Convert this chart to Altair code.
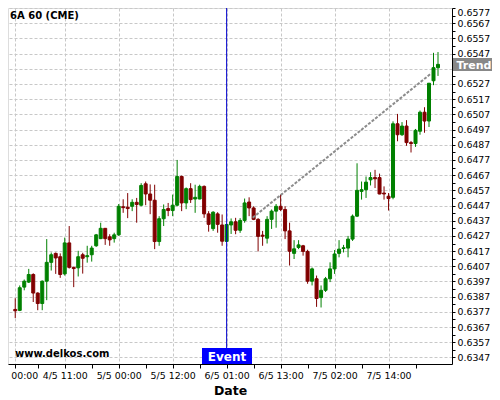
import altair as alt
import pandas as pd

# ---------------- data ----------------
opens = [0.63786, 0.63780, 0.63933, 0.63966, 0.64016, 0.63894, 0.63825, 0.63972, 0.64096, 0.64155,
         0.64133, 0.64020, 0.64224, 0.64063, 0.64060, 0.64146, 0.64133, 0.64146, 0.64205, 0.64252,
         0.64320, 0.64264, 0.64252, 0.64277, 0.64462, 0.64459, 0.64465, 0.64491, 0.64472, 0.64613,
         0.64546, 0.64505, 0.64233, 0.64383, 0.64450, 0.64437, 0.64472, 0.64661, 0.64487, 0.64581,
         0.64513, 0.64513, 0.64596, 0.64415, 0.64318, 0.64415, 0.64342, 0.64234, 0.64342, 0.64363,
         0.64307, 0.64372, 0.64493, 0.64454, 0.64379, 0.64275, 0.64255, 0.64379, 0.64433, 0.64465,
         0.64444, 0.64303, 0.64155, 0.64194, 0.64205, 0.64168, 0.63972, 0.63988, 0.63864, 0.63912,
         0.63988, 0.64053, 0.64155, 0.64187, 0.64190, 0.64249, 0.64400, 0.64563, 0.64574, 0.64639,
         0.64654, 0.64654, 0.64552, 0.64531, 0.64524, 0.65008, 0.64936, 0.64993, 0.64884, 0.64878,
         0.64959, 0.65084, 0.65026, 0.65291, 0.65377]
highs = [0.63860, 0.63944, 0.63983, 0.64053, 0.64024, 0.63899, 0.63977, 0.64249, 0.64161, 0.64161,
         0.64155, 0.64259, 0.64335, 0.64068, 0.64172, 0.64159, 0.64205, 0.64205, 0.64283, 0.64357,
         0.64322, 0.64281, 0.64291, 0.64480, 0.64511, 0.64552, 0.64511, 0.64520, 0.64617, 0.64628,
         0.64609, 0.64607, 0.64400, 0.64477, 0.64487, 0.64542, 0.64770, 0.64667, 0.64589, 0.64617,
         0.64607, 0.64607, 0.64602, 0.64433, 0.64433, 0.64426, 0.64411, 0.64346, 0.64385, 0.64389,
         0.64387, 0.64516, 0.64524, 0.64465, 0.64387, 0.64303, 0.64400, 0.64444, 0.64480, 0.64542,
         0.64465, 0.64357, 0.64242, 0.64242, 0.64211, 0.64179, 0.64062, 0.64009, 0.63944, 0.64000,
         0.64096, 0.64177, 0.64242, 0.64211, 0.64270, 0.64411, 0.64748, 0.64628, 0.64661, 0.64689,
         0.64705, 0.64680, 0.64596, 0.64552, 0.65024, 0.65073, 0.65019, 0.65032, 0.64895, 0.64974,
         0.65095, 0.65117, 0.65275, 0.65475, 0.65480]
lows = [0.63729, 0.63775, 0.63912, 0.63960, 0.63835, 0.63781, 0.63781, 0.63847, 0.64042, 0.64020,
        0.63994, 0.64009, 0.64055, 0.63933, 0.64003, 0.64022, 0.64094, 0.64101, 0.64198, 0.64249,
        0.64211, 0.64205, 0.64226, 0.64270, 0.64422, 0.64387, 0.64433, 0.64357, 0.64465, 0.64472,
        0.64413, 0.64183, 0.64205, 0.64335, 0.64400, 0.64400, 0.64465, 0.64433, 0.64446, 0.64487,
        0.64422, 0.64511, 0.64389, 0.64298, 0.64303, 0.64291, 0.64205, 0.64231, 0.64283, 0.64281,
        0.64290, 0.64357, 0.64400, 0.64374, 0.64168, 0.64205, 0.64220, 0.64316, 0.64324, 0.64433,
        0.64249, 0.64075, 0.64118, 0.64183, 0.64140, 0.63955, 0.63944, 0.63803, 0.63799, 0.63901,
        0.63966, 0.64020, 0.64129, 0.64161, 0.64129, 0.64237, 0.64394, 0.64509, 0.64520, 0.64602,
        0.64585, 0.64544, 0.64509, 0.64437, 0.64511, 0.64893, 0.64928, 0.64863, 0.64819, 0.64856,
        0.64936, 0.64949, 0.64987, 0.65262, 0.65323]
closes = [0.63777, 0.63929, 0.63972, 0.64016, 0.63894, 0.63825, 0.63972, 0.64096, 0.64146, 0.64125,
          0.64016, 0.64224, 0.64063, 0.64055, 0.64133, 0.64123, 0.64140, 0.64190, 0.64277, 0.64320,
          0.64252, 0.64244, 0.64277, 0.64465, 0.64456, 0.64450, 0.64491, 0.64477, 0.64602, 0.64546,
          0.64505, 0.64233, 0.64383, 0.64444, 0.64437, 0.64472, 0.64661, 0.64487, 0.64581, 0.64509,
          0.64524, 0.64596, 0.64415, 0.64346, 0.64426, 0.64346, 0.64235, 0.64345, 0.64363, 0.64307,
          0.64372, 0.64487, 0.64454, 0.64379, 0.64267, 0.64268, 0.64379, 0.64433, 0.64465, 0.64444,
          0.64303, 0.64169, 0.64185, 0.64211, 0.64168, 0.63972, 0.64053, 0.63858, 0.63912, 0.63988,
          0.64053, 0.64151, 0.64183, 0.64192, 0.64249, 0.64400, 0.64570, 0.64574, 0.64624, 0.64654,
          0.64646, 0.64546, 0.64546, 0.64516, 0.65008, 0.64936, 0.64993, 0.64884, 0.64878, 0.64965,
          0.65084, 0.65026, 0.65275, 0.65377, 0.65399]
bar_index = list(range(len(opens)))

x_tick_idx = [0, 5, 11, 17, 23, 29, 35, 41, 47, 53, 59, 65, 71, 77, 83, 89]
x_label_idx = [0, 11, 23, 35, 47, 59, 71, 83]
x_label_txt = ["4/5 00:00", "4/5 11:00", "5/5 00:00", "5/5 12:00",
               "6/5 01:00", "6/5 13:00", "7/5 02:00", "7/5 14:00"]
# y ticks every 0.0005, labels every 0.0010 (…7); 0.6537 sits under the "Trend" tag
y_tick_vals = [round(0.6347 + 0.0005 * k, 5) for k in range(47)]
y_hidden_label = 0.6537

trend_idx = [52.8, 92.5]
trend_price = [0.6439, 0.6534]
event_idx = [47]

chart_title = "6A 60 (CME)"
watermark = "www.delkos.com"
event_text = "Event"
trend_text = "Trend"

# ---------------- build ----------------
W, H = 444, 356
FONT = "DejaVu Sans"

df = pd.DataFrame({"idx": bar_index, "o": opens, "h": highs, "l": lows, "c": closes})
df["dir"] = ["up" if c >= o else "down" for o, c in zip(opens, closes)]
trend_df = pd.DataFrame({"idx": trend_idx, "price": trend_price})
event_df = pd.DataFrame({"idx": event_idx})

xs = alt.Scale(domain=[-0.5, 96.0], nice=False, zero=False)
ys = alt.Scale(domain=[0.63427, 0.6577], nice=False, zero=False)

lab_expr = "".join(f"datum.value == {i} ? '{t}' : " for i, t in zip(x_label_idx, x_label_txt)) + "''"
grid_test_x = "indexof([" + ",".join(str(i) for i in x_label_idx) + "], datum.value) >= 0"
major_test = "round(datum.value*10000) % 10 == 7"
hide_test = f"abs(datum.value - {y_hidden_label}) < 0.00002"

xax = alt.Axis(values=x_tick_idx, labelExpr=lab_expr, title="Date",
               titleFont=FONT, titleFontSize=12.5, titleFontWeight="bold", titleColor="black",
               titleBaseline="alphabetic", titleY=30,
               labelFont=FONT, labelFontSize=9.4, labelColor="black", labelPadding=3.5,
               labelOverlap=False, labelFlush=False, labelBound=False,
               tickSize=4, tickColor="black", domainColor="black", domainWidth=1,
               grid=True, gridColor="#c8c8c8", gridDash=[3, 2],
               gridOpacity={"condition": {"test": grid_test_x, "value": 1}, "value": 0})
yax = alt.Axis(orient="right", values=y_tick_vals, title=None,
               labelExpr=f"({major_test}) && !({hide_test}) ? format(datum.value, '.4f') : ''",
               labelFont=FONT, labelFontSize=9.4, labelColor="black", labelPadding=2,
               labelOverlap=False, labelFlush=False, labelBound=False,
               labelOffset={"condition": {"test": "datum.value > 0.65765", "value": 4}, "value": 0},
               tickSize=3, tickColor="black", domainColor="black", domainWidth=1,
               grid=True, gridColor="#c8c8c8", gridDash=[3, 2],
               gridOpacity={"condition": {"test": major_test, "value": 1}, "value": 0})

X = alt.X("idx:Q", scale=xs, axis=xax)
cscale = alt.Scale(domain=["up", "down"], range=["#008000", "#800000"])

wicks = alt.Chart(df).mark_rule(strokeWidth=1).encode(
    x=X, y=alt.Y("l:Q", scale=ys, axis=yax), y2="h:Q",
    color=alt.Color("dir:N", scale=cscale, legend=None))

bodies = alt.Chart(df).mark_bar(size=3, strokeWidth=1).encode(
    x=X, y=alt.Y("o:Q", scale=ys, axis=yax), y2="c:Q",
    color=alt.Color("dir:N", scale=cscale, legend=None),
    stroke=alt.Stroke("dir:N", scale=cscale, legend=None))

trend = alt.Chart(trend_df).mark_line(color="#8c8c8c", strokeWidth=2, strokeDash=[3, 1.5]).encode(
    x=X, y=alt.Y("price:Q", scale=ys, axis=yax))

event_rule = alt.Chart(event_df).mark_rule(color="#0000CD", strokeWidth=1).encode(x=X)

txt_df = pd.DataFrame({"t": [chart_title]})
title_mark = alt.Chart(txt_df).mark_text(align="left", baseline="middle", font=FONT,
                                         fontSize=10, fontWeight="bold", color="black").encode(
    x=alt.value(2), y=alt.value(8), text="t:N")

wm_df = pd.DataFrame({"t": [watermark]})
wm_mark = alt.Chart(wm_df).mark_text(align="left", baseline="middle", font=FONT,
                                     fontSize=10, fontWeight="bold", color="black").encode(
    x=alt.value(7), y=alt.value(345.5), text="t:N")

ev_df = pd.DataFrame({"t": [event_text]})
ev_box = alt.Chart(ev_df).mark_rect(color="#0000FF").encode(
    x=alt.value(194), x2=alt.value(244), y=alt.value(340), y2=alt.value(356))
ev_txt = alt.Chart(ev_df).mark_text(align="center", baseline="middle", font=FONT,
                                    fontSize=12, fontWeight="bold", color="white").encode(
    x=alt.value(219), y=alt.value(348.5), text="t:N")

tr_df = pd.DataFrame({"t": [trend_text]})
tr_box = alt.Chart(tr_df).mark_rect(color="#888888").encode(
    x=alt.value(445), x2=alt.value(490), y=alt.value(50), y2=alt.value(63))
tr_txt = alt.Chart(tr_df).mark_text(align="center", baseline="middle", font=FONT,
                                    fontSize=11, fontWeight="bold", color="white").encode(
    x=alt.value(466), y=alt.value(57.5), text="t:N")

chart = alt.layer(wicks, bodies, trend, event_rule, title_mark, wm_mark,
                  ev_box, ev_txt, tr_box, tr_txt).properties(
    width=W, height=H,
    autosize=alt.AutoSizeParams(type="none"),
    padding={"left": 0, "top": 0, "right": 40, "bottom": 36},
    background="white",
).configure_view(stroke=None).configure(font=FONT)

chart.save("out.html", embed_options={"renderer": "svg", "actions": False})
